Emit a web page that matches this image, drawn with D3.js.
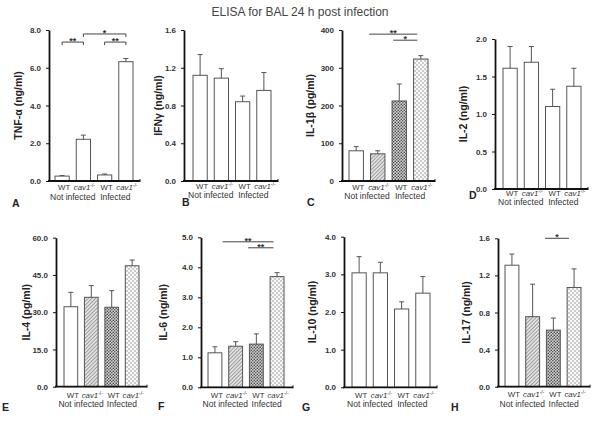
<!DOCTYPE html>
<html><head><meta charset="utf-8">
<script src="https://cdn.jsdelivr.net/npm/d3@7"></script>
<style>body{margin:0;background:#fff}svg{display:block}text{font-family:"Liberation Sans",Arial,sans-serif}</style>
</head><body><svg id="c" width="600" height="423"></svg>
<script>
// ---- data ----
const genotypes = ["WT", "cav1", "WT", "cav1"];
const groups = ["Not infected", "Infected"];
const panelLetters = ["A","B","C","D","E","F","G","H"];
const yLabels = ["TNF-\u03b1 (ng/ml)","IFN\u03b3 (ng/ml)","IL-1\u03b2 (pg/ml)","IL-2 (ng/ml)","IL-4 (pg/ml)","IL-6 (ng/ml)","IL-10 (ng/ml)","IL-17 (ng/ml)"];
const yMax = [8, 1.6, 400, 2, 60, 5, 4, 1.6];
const yStep = [2, 0.4, 100, 0.5, 15, 1, 1, 0.4];
const tickFmt = [".1f",".1f","d",".1f",".1f",".1f",".1f",".1f"];
const means = [
  [0.26, 2.21, 0.32, 6.32],
  [1.12, 1.09, 0.84, 0.96],
  [80, 72, 212, 323],
  [1.61, 1.69, 1.10, 1.37],
  [32.2, 36.0, 32.0, 48.7],
  [1.15, 1.37, 1.44, 3.69],
  [3.04, 3.04, 2.08, 2.50],
  [1.31, 0.755, 0.61, 1.07]
];
const errs = [
  [0.03, 0.22, 0.05, 0.17],
  [0.22, 0.10, 0.06, 0.19],
  [11, 8, 45, 9],
  [0.29, 0.21, 0.23, 0.24],
  [5.8, 4.7, 6.7, 2.3],
  [0.20, 0.15, 0.34, 0.13],
  [0.43, 0.28, 0.19, 0.44],
  [0.12, 0.35, 0.13, 0.20]
];
const patterned = [false,false,true,false,true,true,false,true];
// significance: [panel, fromIndex, toIndex, yValue, label, endTicks]
const signif = [
  [0, 0, 1, 7.36, "**", true],
  [0, 1, 3, 7.79, "*", true],
  [0, 2, 3, 7.36, "**", true],
  [2, 0.6, 2.84, 389, "**", false],
  [2, 1.72, 2.84, 373, "*", false],
  [5, 0.37, 2.83, 4.85, "**", false],
  [5, 1.6, 2.83, 4.65, "**", false],
  [7, 1.6, 2.75, 1.6, "*", false]
];

// ---- layout ----
const layout = [
  {ax:49, y0:181, yTop:30, x1:55, x2:133, xEnd:140, labX:18, lx:12, ly:207, c1:190, c2:200},
  {ax:184, y0:181, yTop:30, x1:193, x2:271, xEnd:278, labX:158, lx:182, ly:206, c1:189, c2:198},
  {ax:342, y0:181, yTop:30, x1:349, x2:428, xEnd:435, labX:310, lx:307, ly:206, c1:190, c2:199},
  {ax:495, y0:189, yTop:39, x1:503, x2:581, xEnd:588, labX:463, lx:469, ly:199, c1:196, c2:205},
  {ax:56, y0:386.7, yTop:237.7, x1:64, x2:139, xEnd:147, labX:26, lx:2, ly:411, c1:398, c2:407},
  {ax:201, y0:387.3, yTop:237.3, x1:208, x2:284, xEnd:293, labX:163, lx:158, ly:410, c1:398, c2:407},
  {ax:344, y0:387.3, yTop:236.7, x1:352, x2:430, xEnd:437, labX:312, lx:302, ly:411, c1:398, c2:407},
  {ax:498, y0:386.7, yTop:238.3, x1:505, x2:581, xEnd:590, labX:466, lx:451, ly:411, c1:397, c2:407}
];

const svg = d3.select("#c");
const defs = svg.append("defs");
// hatch pattern
const ph = defs.append("pattern").attr("id","hatch").attr("patternUnits","userSpaceOnUse").attr("width",2.6).attr("height",2.6).attr("patternTransform","rotate(45)");
ph.append("rect").attr("width",2.6).attr("height",2.6).attr("fill","#e0e0e0");
ph.append("line").attr("x1",0).attr("y1",0).attr("x2",0).attr("y2",2.6).attr("stroke","#707070").attr("stroke-width",1.1);
// dark dots
const pd = defs.append("pattern").attr("id","ddots").attr("patternUnits","userSpaceOnUse").attr("width",3).attr("height",3);
pd.append("rect").attr("width",3).attr("height",3).attr("fill","#d0d0d0");
pd.append("circle").attr("cx",0.8).attr("cy",0.8).attr("r",0.8).attr("fill","#4a4a4a");
pd.append("circle").attr("cx",2.3).attr("cy",2.3).attr("r",0.8).attr("fill","#4a4a4a");
// light dots
const pl = defs.append("pattern").attr("id","ldots").attr("patternUnits","userSpaceOnUse").attr("width",4).attr("height",4);
pl.append("rect").attr("width",4).attr("height",4).attr("fill","#f8f8f8");
pl.append("circle").attr("cx",1).attr("cy",1).attr("r",0.75).attr("fill","#888");
pl.append("circle").attr("cx",3).attr("cy",3).attr("r",0.75).attr("fill","#888");
const fills = ["#fff","url(#hatch)","url(#ddots)","url(#ldots)"];

svg.append("text").attr("x",300).attr("y",16).attr("text-anchor","middle")
  .attr("font-size",12).attr("fill","#444").text("ELISA for BAL 24 h post infection");

layout.forEach((L, p) => {
  const g = svg.append("g");
  const y = d3.scaleLinear().domain([0, yMax[p]]).range([L.y0, L.yTop]);
  const x = d3.scaleBand().domain(d3.range(4)).range([L.x1, L.x2]).paddingInner(0.33).paddingOuter(0);
  const bw = x.bandwidth();
  const cx = i => { const f = Math.floor(i), fr = i - f; const a = x(Math.min(f,3)) + bw/2; return a + fr * x.step(); };

  // bars
  means[p].forEach((v, i) => {
    g.append("rect").attr("x", x(i)).attr("y", y(v)).attr("width", bw).attr("height", L.y0 - y(v))
      .attr("fill", patterned[p] ? fills[i] : "#fff").attr("stroke","#555").attr("stroke-width",1);
    const top = y(v + errs[p][i]);
    g.append("line").attr("x1", cx(i)).attr("x2", cx(i)).attr("y1", y(v)).attr("y2", top).attr("stroke","#555").attr("stroke-width",1);
    g.append("line").attr("x1", cx(i)-2.5).attr("x2", cx(i)+2.5).attr("y1", top).attr("y2", top).attr("stroke","#555").attr("stroke-width",1);
  });

  // y axis
  const ticks = d3.range(0, yMax[p] + yStep[p]/2, yStep[p]);
  const ya = g.append("g").attr("transform", `translate(${L.ax},0)`)
    .call(d3.axisLeft(y).tickValues(ticks).tickFormat(d3.format(tickFmt[p])).tickSize(3).tickSizeOuter(0).tickPadding(5));
  ya.select(".domain").attr("stroke","#111").attr("stroke-width",1.8);
  ya.selectAll(".tick line").attr("stroke","#111");
  ya.selectAll(".tick text").attr("font-size",8).attr("font-weight","bold").attr("fill","#333").attr("font-family","Liberation Sans, Arial, sans-serif");
  // x axis line
  g.append("line").attr("x1", L.ax-1).attr("x2", L.xEnd).attr("y1", L.y0).attr("y2", L.y0).attr("stroke","#111").attr("stroke-width",1.8);
  g.append("line").attr("x1", L.xEnd).attr("x2", L.xEnd).attr("y1", L.y0-2).attr("y2", L.y0+1).attr("stroke","#111").attr("stroke-width",1);

  // y label
  g.append("text").attr("transform", `translate(${L.labX},${(L.y0+L.yTop)/2}) rotate(-90)`)
    .attr("text-anchor","middle").attr("dy","0.35em").attr("font-size",10.5).attr("font-weight","bold").attr("fill","#222").text(yLabels[p]);

  // category labels
  genotypes.forEach((gt, i) => {
    const t = g.append("text").attr("x", cx(i) + (gt === "WT" ? 2 : 1)).attr("y", L.c1).attr("text-anchor","middle")
      .attr("font-size",7.8).attr("fill","#333");
    if (gt === "WT") t.text("WT");
    else { t.append("tspan").attr("font-style","italic").text(gt); t.append("tspan").attr("font-size",5).attr("dy",-3).text("-/-"); }
  });
  groups.forEach((gr, k) => {
    g.append("text").attr("x", (cx(2*k) + cx(2*k+1))/2).attr("y", L.c2).attr("text-anchor","middle")
      .attr("font-size",8.5).attr("fill","#333").text(gr);
  });
  // panel letter
  g.append("text").attr("x", L.lx).attr("y", L.ly).attr("font-size",10.5).attr("font-weight","bold").attr("fill","#222").text(panelLetters[p]);

  // significance
  signif.filter(s => s[0] === p).forEach(s => {
    const xa = cx(s[1]), xb = cx(s[2]), yy = y(s[3]);
    g.append("line").attr("x1", xa).attr("x2", xb).attr("y1", yy).attr("y2", yy).attr("stroke","#444").attr("stroke-width",1);
    if (s[5]) {
      g.append("line").attr("x1", xa).attr("x2", xa).attr("y1", yy).attr("y2", yy+3).attr("stroke","#444").attr("stroke-width",1);
      g.append("line").attr("x1", xb).attr("x2", xb).attr("y1", yy).attr("y2", yy+3).attr("stroke","#444").attr("stroke-width",1);
    }
    g.append("text").attr("x", (xa+xb)/2).attr("y", yy + 2).attr("text-anchor","middle").attr("font-size",9).attr("font-weight","bold").attr("fill","#333").text(s[4]);
  });
});
</script></body></html>
